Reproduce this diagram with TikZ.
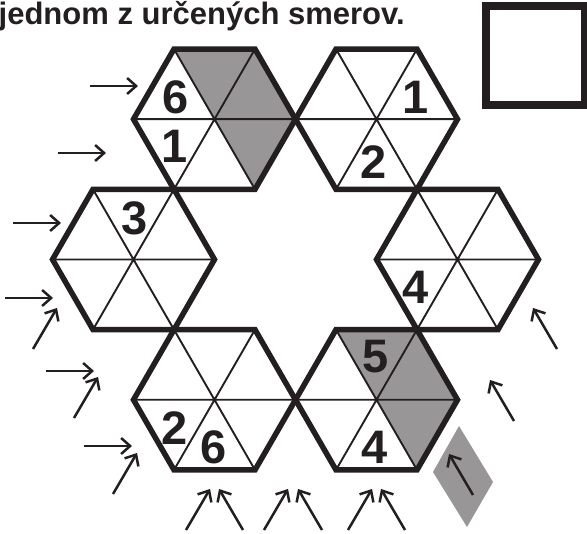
\documentclass[tikz,border=0pt]{standalone}
\usepackage{fontspec}
\setmainfont{Liberation Sans}
\usetikzlibrary{arrows.meta,calc}
\definecolor{ink}{RGB}{35,31,32}
\definecolor{greyfill}{RGB}{152,150,150}
\newcommand\hexverts[2]{%
  \coordinate (#1) at (#2);
  \coordinate (#1-0) at ($(#1)+(81,0)$);
  \coordinate (#1-1) at ($(#1)+(40.5,70.15)$);
  \coordinate (#1-2) at ($(#1)+(-40.5,70.15)$);
  \coordinate (#1-3) at ($(#1)+(-81,0)$);
  \coordinate (#1-4) at ($(#1)+(-40.5,-70.15)$);
  \coordinate (#1-5) at ($(#1)+(40.5,-70.15)$);
}
\newcommand\hexspokes[1]{\draw[hexspoke] (#1-0) -- (#1-3) (#1-1) -- (#1-4) (#1-2) -- (#1-5);}
\newcommand\hexrim[1]{\draw[hexrimstyle] (#1-0) -- (#1-1) -- (#1-2) -- (#1-3) -- (#1-4) -- (#1-5) -- cycle;}
\begin{document}
\begin{tikzpicture}[x=1pt,y=-1pt,
  hexrimstyle/.style={line width=5.5pt, draw=ink, line join=miter},
  hexspoke/.style={line width=1.9pt, draw=ink},
  cellfill/.style={fill=greyfill},
  digit/.style={font=\fontsize{47}{47}\selectfont\bfseries, text=ink, inner sep=0pt},
  arr/.style={line width=2.5pt, draw=ink, -{Straight Barb[length=9pt,width=16pt]}},
  frame/.style={line width=8pt, draw=ink}
]
\useasboundingbox (0,0) rectangle (587,534);

% hexagon centres
\hexverts{h1}{214.5,119.2}
\hexverts{h2}{376.5,119.2}
\hexverts{h3}{133.5,259.5}
\hexverts{h4}{457.5,259.5}
\hexverts{h5}{214.5,399.8}
\hexverts{h6}{376.5,399.8}

% shaded cells
\fill[cellfill] (h1) -- (h1-4) -- (h1-5) -- (h1-0) -- (h1-1) -- cycle;
\fill[cellfill] (h6) -- (h6-4) -- (h6-5) -- (h6-0) -- (h6-1) -- cycle;

% spokes
\foreach \h in {h1,h2,h3,h4,h5,h6} {\hexspokes{\h}}
% rims
\foreach \h in {h1,h2,h3,h4,h5,h6} {\hexrim{\h}}

% title
\node[anchor=base west, inner sep=0pt, font=\fontsize{31}{31}\selectfont\bfseries, text=ink] (title) at (-1.5,25) {jednom z určených smerov.};

% empty answer box
\draw[frame] (486,6) rectangle (585,105.5);

% digits
\node[digit] (d1a) at (176,97) {6};
\node[digit] (d1b) at (175,146) {1};
\node[digit] (d2a) at (416,97) {1};
\node[digit] (d2b) at (374,162) {2};
\node[digit] (d3) at (135,218) {3};
\node[digit] (d4) at (416,287) {4};
\node[digit] (d5a) at (175,428) {2};
\node[digit] (d5b) at (214,447) {6};
\node[digit] (d6a) at (376,357) {5};
\node[digit] (d6b) at (375,447) {4};

% grey rhombus
\fill[cellfill] (459,426) -- (493,482) -- (467,527) -- (433,472) -- cycle;

% arrows
\draw[arr] (90,86) -- ++(48,0);
\draw[arr] (58,153) -- ++(48,0);
\draw[arr] (13,223) -- ++(48,0);
\draw[arr] (5,298) -- ++(48,0);
\draw[arr] (33,349) -- ++(24,-41);
\draw[arr] (46,371) -- ++(48,0);
\draw[arr] (74,418) -- ++(24,-41);
\draw[arr] (84,446) -- ++(48,0);
\draw[arr] (113,494) -- ++(24,-41);
\draw[arr] (186,530) -- ++(24,-41);
\draw[arr] (243,530) -- ++(-24,-41);
\draw[arr] (264,530) -- ++(24,-41);
\draw[arr] (322,530) -- ++(-24,-41);
\draw[arr] (348,530) -- ++(24,-41);
\draw[arr] (405,530) -- ++(-24,-41);
\draw[arr] (514,421) -- ++(-24,-41);
\draw[arr] (557,349) -- ++(-24,-41);
\draw[arr] (473,495) -- ++(-24,-41);
\end{tikzpicture}
\end{document}
